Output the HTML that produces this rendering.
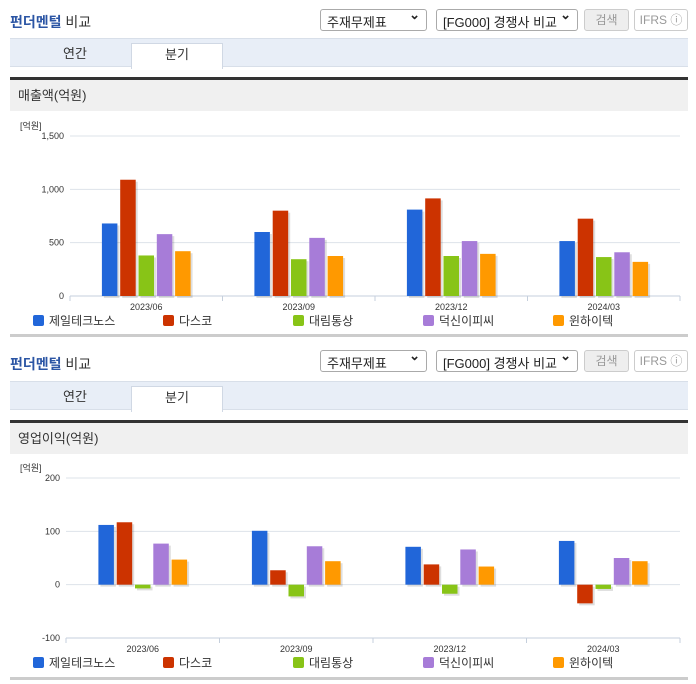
<!DOCTYPE html>
<html><head><meta charset="utf-8">
<style>
body{margin:0;width:696px;height:684px;background:#fff;font-family:"Liberation Sans","Noto Sans CJK KR",sans-serif;position:relative;overflow:hidden}
.abs{position:absolute}
.title{font-size:14px;font-weight:bold;color:#2b55a4;left:10px}
.title span{color:#333;font-weight:normal}
.sel{border:1px solid #aaa;border-radius:3px;height:22px;font-size:13px;color:#222;box-sizing:border-box;padding:2px 6px;background:#fff}
.sel:after{content:"⌄";position:absolute;right:6px;top:-3px;font-weight:bold}
.btn{border:1px solid #ccc;border-radius:3px;height:22px;box-sizing:border-box;font-size:12px;color:#999;text-align:center;line-height:20px}
.tabs{left:10px;width:678px;height:29px;background:#e8eef7;border-top:1px solid #d8dfe9;border-bottom:1px solid #d8dfe9;box-sizing:border-box}
.tab{position:absolute;top:4px;height:25px;width:90px;text-align:center;font-size:13px;color:#333;line-height:22px}
.tab.on{background:#fff;border:1px solid #d0d8e4;border-bottom:none;left:121px}
.hdr{left:10px;width:678px;height:31px;background:#f0f0f0;border-top:3px solid #333;box-sizing:content-box;font-size:13px;color:#333;line-height:31px;padding-left:0}
.hdr span{margin-left:8px}
.foot{left:10px;width:678px;height:3px;background:#ccc}
svg text{font-family:"Liberation Sans","Noto Sans CJK KR",sans-serif}
</style></head><body>

<div class="abs title" style="top:12px">펀더멘털 <span>비교</span></div>
<div class="abs sel" style="left:320px;top:9px;width:107px">주재무제표</div>
<div class="abs sel" style="left:436px;top:9px;width:142px">[FG000] 경쟁사 비교</div>
<div class="abs btn" style="left:584px;top:9px;width:45px;background:#eee">검색</div>
<div class="abs btn" style="left:634px;top:9px;width:54px">IFRS ⓘ</div>
<div class="abs tabs" style="top:38px">
 <div class="tab" style="left:20px">연간</div>
 <div class="tab on">분기</div>
</div>
<div class="abs hdr" style="top:77px"><span>매출액(억원)</span></div>
<svg class="abs" id="c1" style="left:0;top:110px" width="696" height="225"></svg>
<div class="abs foot" style="top:334px"></div>

<div class="abs title" style="top:354px">펀더멘털 <span>비교</span></div>
<div class="abs sel" style="left:320px;top:350px;width:107px">주재무제표</div>
<div class="abs sel" style="left:436px;top:350px;width:142px">[FG000] 경쟁사 비교</div>
<div class="abs btn" style="left:584px;top:350px;width:45px;background:#eee">검색</div>
<div class="abs btn" style="left:634px;top:350px;width:54px">IFRS ⓘ</div>
<div class="abs tabs" style="top:381px">
 <div class="tab" style="left:20px">연간</div>
 <div class="tab on">분기</div>
</div>
<div class="abs hdr" style="top:420px"><span>영업이익(억원)</span></div>
<svg class="abs" id="c2" style="left:0;top:453px" width="696" height="225"></svg>
<div class="abs foot" style="top:677px"></div>

<script>
const categories = ["2023/06","2023/09","2023/12","2024/03"];
const companies = ["제일테크노스","다스코","대림통상","덕신이피씨","윈하이텍"];
const colors = ["#2166d9","#cc3300","#88c417","#a77cd8","#ff9900"];
const revJeil = [680,600,810,515];
const revDasco = [1090,800,915,725];
const revDaelim = [380,345,375,365];
const revDuksin = [580,545,515,410];
const revWin = [420,375,395,320];
const revTicks = [0,500,1000,1500];
const revTickLabels = ["0","500","1,000","1,500"];
const opJeil = [112,101,71,82];
const opDasco = [117,27,38,-35];
const opDaelim = [-7,-22,-17,-8];
const opDuksin = [77,72,66,50];
const opWin = [47,44,34,44];
const opTicks = [-100,0,100,200];
const opTickLabels = ["-100","0","100","200"];

const NS="http://www.w3.org/2000/svg";
function mk(svg,tag,attrs){const e=document.createElementNS(NS,tag);for(const k in attrs)e.setAttribute(k,attrs[k]);svg.appendChild(e);return e;}
function draw(id,series,ticks,tickLabels,ymin,ymax,yTop,yBot,x0,x1){
  const svg=document.getElementById(id);
  const y=v=>yBot-(v-ymin)/(ymax-ymin)*(yBot-yTop);
  const cw=(x1-x0)/categories.length;
  let t=mk(svg,'text',{x:20,y:yTop-7,'font-size':9,fill:'#333'});t.textContent='[억원]';
  
  
  ticks.forEach((v,i)=>{
    const g=mk(svg,'line',{x1:x0,x2:x1,y1:y(v),y2:y(v),stroke:'#dde3ea','stroke-width':1});
    
    
    const l=mk(svg,'text',{x:x0-6,y:y(v)+3,'font-size':9,fill:'#333','text-anchor':'end'});l.textContent=tickLabels[i];
    
    
  });
  const ax=mk(svg,'line',{x1:x0,x2:x1,y1:yBot,y2:yBot,stroke:'#c5cfdc'});
  
  
  for(let i=0;i<=categories.length;i++){const tk=mk(svg,'line',{x1:x0+i*cw,x2:x0+i*cw,y1:yBot,y2:yBot+5,stroke:'#c5cfdc'});
    
    }
  const bw=15.5,step=18.3;
  categories.forEach((c,ci)=>{
    const cx=x0+cw*(ci+0.5);
    const l=mk(svg,'text',{x:cx,y:yBot+14,'font-size':9,fill:'#333','text-anchor':'middle'});l.textContent=c;
    
    
    series.forEach((s,si)=>{
      const v=s[ci];const bx=cx-2*step-bw/2+si*step;
      const top=Math.min(y(v),y(0)),h=Math.abs(y(v)-y(0));
      const sh=mk(svg,'rect',{x:bx+2,y:top+2,width:bw,height:h,fill:'#000',opacity:0.13});
      
      
      const r=mk(svg,'rect',{x:bx,y:top,width:bw,height:h,fill:colors[si]});
      
      
    });
  });
  companies.forEach((n,i)=>{
    const lx=33+i*130;
    const r=mk(svg,'rect',{x:lx,y:yBot+19,width:11,height:11,rx:2,fill:colors[i]});
    
    
    const t=mk(svg,'text',{x:lx+16,y:yBot+29,'font-size':12,fill:'#333'});t.textContent=n;
    
    
  });
}
draw('c1',[revJeil,revDasco,revDaelim,revDuksin,revWin],revTicks,revTickLabels,0,1500,26,186,70,680);
draw('c2',[opJeil,opDasco,opDaelim,opDuksin,opWin],opTicks,opTickLabels,-100,200,25,185,66,680);
</script>
</body></html>
